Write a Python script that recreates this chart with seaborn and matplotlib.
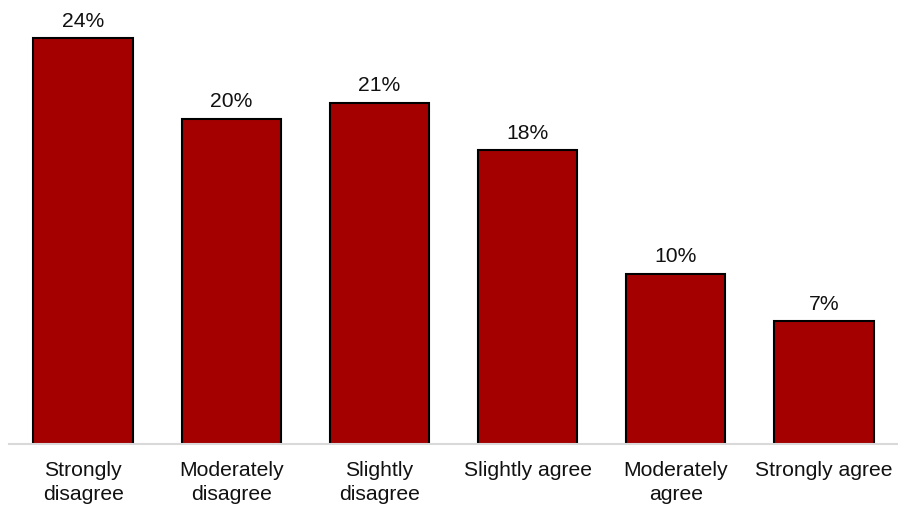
import matplotlib
matplotlib.use("Agg")
import matplotlib.pyplot as plt
import seaborn as sns
import pandas as pd

categories = ["Strongly\ndisagree", "Moderately\ndisagree", "Slightly\ndisagree",
              "Slightly agree", "Moderately\nagree", "Strongly agree"]
values = [24.47, 19.62, 20.58, 17.71, 10.25, 7.40]
labels = ["24%", "20%", "21%", "18%", "10%", "7%"]

sns.set_style("white")
plt.rcParams['font.family'] = ['Liberation Sans', 'DejaVu Sans']

df = pd.DataFrame({"category": categories, "value": values})

fig = plt.figure(figsize=(8.98, 5.08), dpi=100)
ax = fig.add_axes([9/898, 64/508, 1 - 9/898, 444/508])

sns.barplot(data=df, x="category", y="value", color="#A50000", saturation=1,
            width=0.671, edgecolor="black", linewidth=1.5, ax=ax)

ax.bar_label(ax.containers[0], labels=labels, padding=5.5, fontsize=15.2, color="#111111")

ax.set_xlim(-0.5, 5.5)
ax.set_ylim(0, 26.78)
ax.set_xlabel("")
ax.set_ylabel("")
ax.set_yticks([])
for s in ["top", "right", "left"]:
    ax.spines[s].set_visible(False)
ax.spines["bottom"].set_color("#D9D9D9")
ax.spines["bottom"].set_linewidth(1.5)
ax.tick_params(axis="x", length=0, pad=12.5, labelsize=15.2, labelcolor="#111111")
for t in ax.get_xticklabels():
    t.set_linespacing(1.3)

fig.savefig("out.png", dpi=100)
